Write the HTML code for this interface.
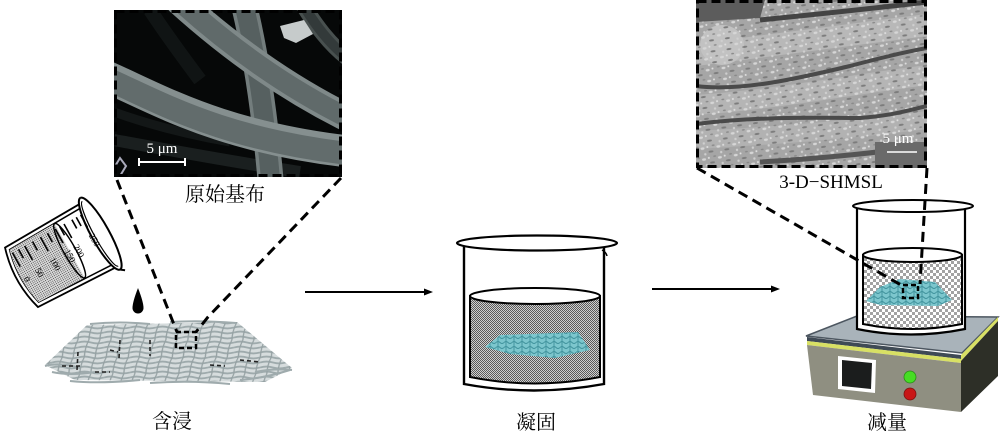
<!DOCTYPE html>
<html><head><meta charset="utf-8"><style>
html,body{margin:0;padding:0;background:#fff;}
svg{display:block;}
.cn{font-family:"Liberation Serif","Noto Serif CJK SC","Noto Sans CJK SC",serif;font-size:20px;fill:#000;}
.lt{font-family:"Liberation Serif",serif;}
</style></head><body>
<svg width="1000" height="433" viewBox="0 0 1000 433" xmlns="http://www.w3.org/2000/svg">
<defs>
<pattern id="chk1" width="2" height="2" patternUnits="userSpaceOnUse"><rect width="2" height="2" fill="#cfcfcf"/><rect width="1" height="1" fill="#5a5a5a"/><rect x="1" y="1" width="1" height="1" fill="#5a5a5a"/></pattern>
<pattern id="chk2" width="6" height="6" patternUnits="userSpaceOnUse"><rect width="6" height="6" fill="#fff"/><rect width="3" height="3" fill="#a2a2a2"/><rect x="3" y="3" width="3" height="3" fill="#a2a2a2"/></pattern>
<pattern id="stip" width="2" height="2" patternUnits="userSpaceOnUse"><rect width="2" height="2" fill="#dedede"/><rect width="1" height="1" fill="#4a4a4a"/></pattern>
<pattern id="fibH" width="26" height="5" patternUnits="userSpaceOnUse"><path d="M0,2.5 Q6.5,0.6 13,2.5 T26,2.5" stroke="#9eaaac" stroke-width="1.8" fill="none"/></pattern>
<pattern id="fibV" width="11" height="17" patternUnits="userSpaceOnUse" patternTransform="skewX(-15)"><path d="M4,0 Q2,8 4,17" stroke="#95a1a3" stroke-width="1.3" fill="none"/></pattern>
<pattern id="teal" width="8" height="5" patternUnits="userSpaceOnUse"><rect width="8" height="5" fill="#7cc6cd"/><path d="M0,2.5 Q2,0.5 4,2.5 T8,2.5 M2,0 L2,5" stroke="#3f929c" stroke-width="0.9" fill="none"/></pattern>
<pattern id="tex" width="16" height="11" patternUnits="userSpaceOnUse" patternTransform="rotate(-8)">
<ellipse cx="3" cy="3" rx="2" ry="1.2" fill="#d6d6d6"/><ellipse cx="11" cy="7" rx="2.5" ry="1" fill="#7c7c7c"/><circle cx="8" cy="2" r="1" fill="#e0e0e0"/><ellipse cx="14" cy="1" rx="1.5" ry="0.8" fill="#888"/><circle cx="5" cy="9" r="1.2" fill="#cfcfcf"/></pattern>
<clipPath id="cl1"><rect x="114" y="10" width="228" height="167"/></clipPath>
<clipPath id="cl2"><rect x="696" y="0" width="231" height="168"/></clipPath>
</defs>

<!-- ===== Left SEM ===== -->
<g clip-path="url(#cl1)">
<rect x="114" y="10" width="228" height="167" fill="#060808"/>
<path d="M114,140 C170,150 220,160 300,172" stroke="#1a1f1f" stroke-width="12" fill="none"/>
<path d="M114,112 C150,125 190,135 230,142" stroke="#131717" stroke-width="9" fill="none"/>
<path d="M150,10 C170,40 185,60 200,80" stroke="#101414" stroke-width="14" fill="none"/>
<path d="M300,0 C315,25 330,45 350,60" stroke="#48504f" stroke-width="16" fill="none"/>
<path d="M300,0 C315,25 330,45 350,60" stroke="#333a3a" stroke-width="10" fill="none"/>
<path d="M244,5 Q262,80 271,185" stroke="#737d7d" stroke-width="26" fill="none"/>
<path d="M244,5 Q262,80 271,185" stroke="#566060" stroke-width="19" fill="none"/>
<polygon points="280,26 304,20 313,34 296,43 284,38" fill="#c6cbcb"/>
<path d="M178,0 C220,38 280,85 352,120" stroke="#7f8989" stroke-width="28" fill="none"/>
<path d="M178,0 C220,38 280,85 352,120" stroke="#606a6a" stroke-width="20" fill="none"/>
<path d="M105,76 C160,100 220,137 352,152" stroke="#858f8f" stroke-width="32" fill="none"/>
<path d="M105,78 C160,102 220,139 352,154" stroke="#626c6c" stroke-width="23" fill="none"/>
<path d="M114,168 L120,158 L126,166 L120,176" stroke="#aab" stroke-width="2" fill="none"/>
<text x="162" y="153" class="lt" font-size="15" fill="#fff" text-anchor="middle">5 μm</text>
<path d="M139,162 L185,162 M139,158 L139,166 M185,158 L185,166" stroke="#fff" stroke-width="2" fill="none"/>
</g>
<rect x="115.5" y="11.5" width="225" height="164" fill="none" stroke="#000" stroke-width="3" stroke-dasharray="9 5"/>
<text x="225" y="201" class="cn" text-anchor="middle">原始基布</text>

<!-- ===== Right SEM ===== -->
<g clip-path="url(#cl2)">
<rect x="696" y="0" width="231" height="168" fill="#a6a6a6"/>
<path d="M696,55 C770,45 850,35 927,25" stroke="#b8b8b8" stroke-width="22" fill="none"/>
<path d="M696,105 C770,100 850,85 927,75" stroke="#b5b5b5" stroke-width="20" fill="none"/>
<path d="M696,140 C780,135 850,130 927,120" stroke="#b2b2b2" stroke-width="18" fill="none"/>
<rect x="696" y="0" width="231" height="168" fill="url(#tex)"/>
<path d="M696,0 L765,0 L760,18 L696,22 Z" fill="#5c5c5c"/>
<path d="M760,20 C800,16 860,10 927,2" stroke="#444" stroke-width="5" fill="none"/>
<path d="M696,86 C740,92 800,78 850,66 C880,58 905,52 927,48" stroke="#4a4a4a" stroke-width="4" fill="none"/>
<path d="M696,124 C760,116 820,118 860,118 C890,116 910,110 927,106" stroke="#4a4a4a" stroke-width="4" fill="none"/>
<path d="M760,162 C830,158 880,152 927,146" stroke="#555" stroke-width="5" fill="none"/>
<rect x="875" y="142" width="52" height="26" fill="#6a6a6a"/>
<ellipse cx="722" cy="45" rx="22" ry="20" fill="#c2c2c2"/>
<ellipse cx="722" cy="45" rx="22" ry="20" fill="url(#tex)"/>
<text x="898" y="143" class="lt" font-size="15" fill="#fff" text-anchor="middle">5 μm</text>
<path d="M887,152 L917,152" stroke="#fff" stroke-width="1.5"/>
</g>
<rect x="697.5" y="1.5" width="228" height="165" fill="none" stroke="#000" stroke-width="3" stroke-dasharray="9 5"/>
<text x="831" y="188" class="lt" font-size="19" text-anchor="middle">3-D−SHMSL</text>

<!-- ===== Left measuring beaker ===== -->
<g transform="translate(60,256) rotate(61)" stroke="#000" fill="none">
<path d="M-36,-44 L-34,44 Q0,54 34,44 L37,-44" stroke-width="1.8" fill="#fff"/>
<path d="M-32,-44 L-30,41 Q0,49 30,41 L33,-44" stroke-width="1.5"/>
<path d="M-31,-11 L-30,41 Q0,49 30,41 L31,-11 Z" fill="url(#stip)" stroke="none"/>
<ellipse cx="0" cy="-11" rx="31" ry="6" stroke-width="1.5"/>
<path d="M-41,-46 A41,9 0 0,0 41,-46" stroke-width="2" fill="#fff"/>
<path d="M-41,-46 A41,9 0 0,1 41,-46 L44,-50" stroke-width="2"/>
<path d="M-37,-46 A37,6 0 0,0 37,-46" stroke-width="1.2"/>
<path d="M-26,-38 L-12,-38 M-26,-33 L-16,-33 M-26,-28 L-16,-28 M-26,-19 L-10,-19 M-26,-14 L-16,-14 M-26,-9 L-10,-9 M-26,0 L-16,0 M-26,8 L-10,8 M-26,17 L-16,17 M-26,26 L-10,26 M-26,33 L-16,33 M-26,40 L-10,40" stroke-width="1.6"/>
<g fill="#000" stroke="none" font-family="Liberation Serif,serif" font-size="9">
<text x="-4" y="-35">250</text><text x="-2" y="-16">200</text><text x="-2" y="-6">150</text>
<text x="-2" y="11">100</text><text x="0" y="29">50</text><text x="2" y="43">0</text>
</g>
</g>
<!-- drop -->
<path d="M138,288 Q132.5,302 132.5,308 A5.5,5.5 0 0,0 143.5,308 Q143.5,302 138,288 Z" fill="#000"/>

<!-- ===== fabric ===== -->
<polygon points="87,325 237,322 292,368 265,382 75,380 45,365" fill="#d6dcdd"/>
<polygon points="87,325 237,322 292,368 265,382 75,380 45,365" fill="url(#fibH)"/>
<polygon points="87,325 237,322 292,368 265,382 75,380 45,365" fill="url(#fibV)"/>
<path d="M45,366 Q60,362 80,368 M52,372 Q70,376 95,372 M70,381 Q100,384 140,380 M150,383 Q190,380 230,384 M240,380 Q265,378 290,370 M255,372 Q275,368 292,370 M90,324 Q120,321 150,324 M170,322 Q200,320 236,323" stroke="#9fabad" stroke-width="2" fill="none"/>
<path d="M62,366 L80,366 M78,352 L77,370 M110,350 L118,352 M120,340 L119,358 M95,372 L110,372 M150,340 L150,356 M210,365 L225,366 M240,360 L260,362" stroke="#222" stroke-width="1.6" stroke-dasharray="4 3" fill="none"/>
<rect x="176" y="332" width="20" height="16" fill="none" stroke="#000" stroke-width="2.5" stroke-dasharray="5 3"/>
<path d="M117,180 L173,322 L177,332 M341,178 L208,317 L196,332" fill="none" stroke="#000" stroke-width="3" stroke-dasharray="10 6"/>
<text x="172" y="428" class="cn" text-anchor="middle">含浸</text>

<!-- arrows -->
<path d="M305,292 L426,292" stroke="#000" stroke-width="2"/>
<polygon points="433,292 424,288.5 424,295.5" fill="#000"/>
<path d="M652,289 L773,289" stroke="#000" stroke-width="2"/>
<polygon points="780,289 771,285.5 771,292.5" fill="#000"/>

<!-- ===== middle beaker ===== -->
<g stroke="#000" fill="none">
<path d="M464,246 L464,384 Q534,397 604,384 L604,248" stroke-width="2.4" fill="#fff"/>
<path d="M470,296 L470,377 Q535,390 600,377 L600,296 Z" fill="url(#chk1)" stroke-width="2"/>
<ellipse cx="535" cy="296" rx="65" ry="8" fill="#fff" stroke-width="2"/>
<ellipse cx="537" cy="243" rx="80" ry="7.5" fill="#fff" stroke-width="2.2"/>
<path d="M602,250 Q606,252 607,256" stroke-width="1.5"/>
</g>
<polygon points="485,347 500,335 578,332 590,350 555,358 510,354" fill="url(#teal)"/>
<text x="536" y="429" class="cn" text-anchor="middle">凝固</text>

<!-- ===== hotplate ===== -->
<polygon points="806,336 857,316 998,317 962,353" fill="#a9b3ba" stroke="#4c5660" stroke-width="1.5"/>
<polygon points="807,337 961,355 961,359 807,341" fill="#3f4a55"/>
<polygon points="807,341 961,359 961,363 807,345" fill="#d8e064"/>
<polygon points="807,345 961,363 961,412 813,395" fill="#8f8f81"/>
<polygon points="961,355 998,317 998,321 961,361" fill="#d8e064"/>
<polygon points="961,361 998,321 998,376 961,412" fill="#2d2f27"/>
<polygon points="838,356 876,360 875,393 838,389" fill="#fff"/>
<polygon points="842,360 872,363 871,389 842,386" fill="#1b1d1d"/>
<circle cx="910" cy="377" r="6" fill="#46dd24" stroke="#2a8a18" stroke-width="0.8"/>
<circle cx="910" cy="394" r="6" fill="#c81616" stroke="#7a1010" stroke-width="0.8"/>

<!-- ===== right beaker ===== -->
<g stroke="#000" fill="none">
<path d="M857,207 L857,329 Q911,340 965,329 L965,208" stroke-width="2.2" fill="#fff"/>
<path d="M863,255 L863,324 Q912,334 962,324 L962,255 Z" fill="url(#chk2)" stroke-width="2"/>
<ellipse cx="912.5" cy="255" rx="49.5" ry="7" fill="#fff" stroke-width="2"/>
<ellipse cx="913" cy="206" rx="60" ry="6" fill="#fff" stroke-width="2"/>
</g>
<polygon points="866,301 880,287 900,279 935,282 952,300 938,306 880,305" fill="url(#teal)"/>
<rect x="903" y="285" width="15" height="13" fill="none" stroke="#000" stroke-width="2.5" stroke-dasharray="5 3"/>
<path d="M697,168 L901,285 M927,168 L920,284" fill="none" stroke="#000" stroke-width="3" stroke-dasharray="10 6"/>
<text x="887" y="429" class="cn" text-anchor="middle">减量</text>
</svg>
</body></html>
